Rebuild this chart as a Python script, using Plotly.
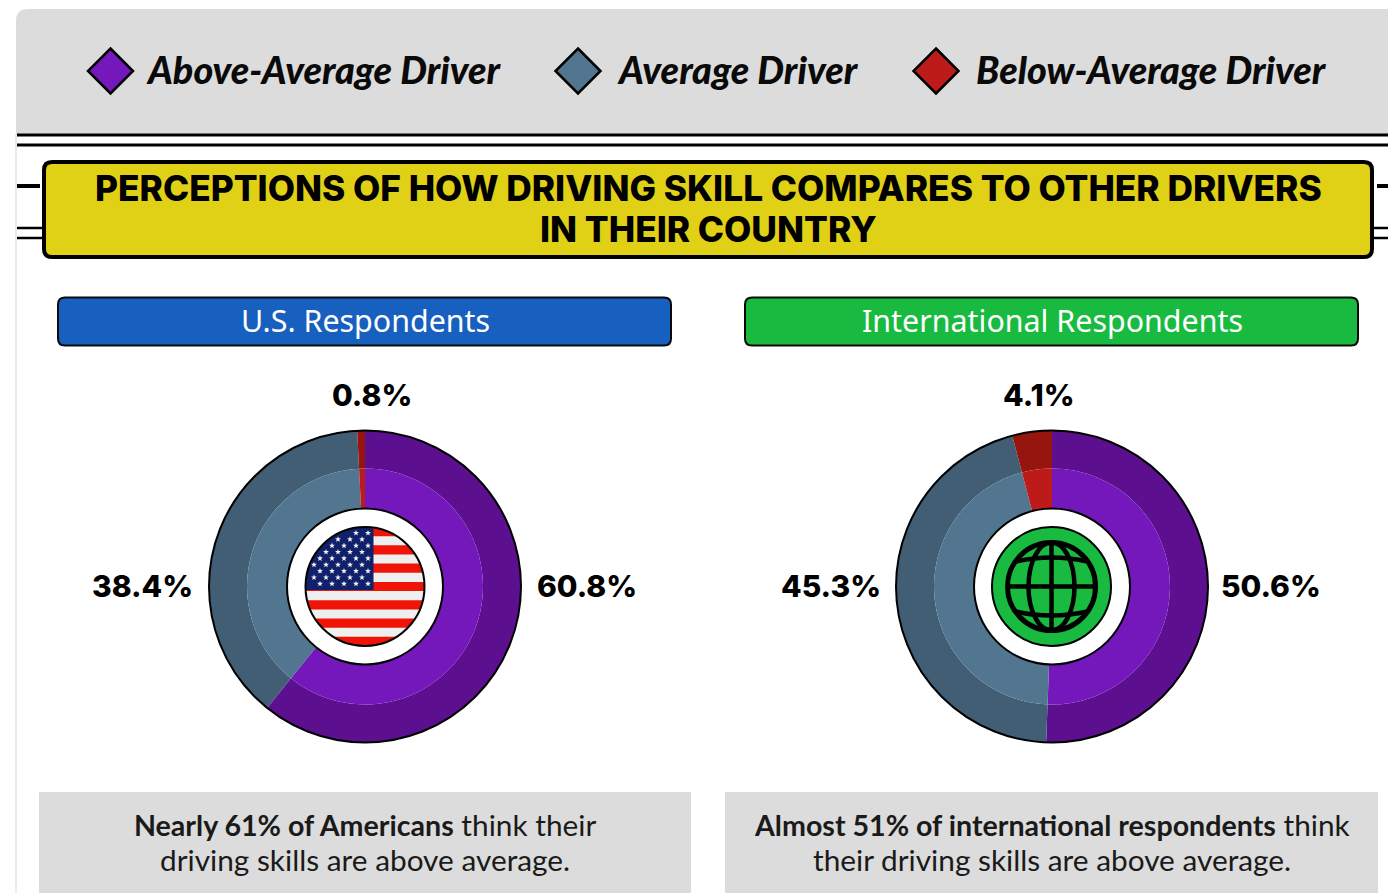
import math
import plotly.graph_objects as go

categories = ["Above-Average Driver", "Average Driver", "Below-Average Driver"]
us_values = [60.8, 38.4, 0.8]
intl_values = [50.6, 45.3, 4.1]
panel_names = ["U.S. Respondents", "International Respondents"]
title_lines = ["PERCEPTIONS OF HOW DRIVING SKILL COMPARES TO OTHER DRIVERS", "IN THEIR COUNTRY"]
note_us = ["Nearly 61% of Americans", " think their", "driving skills are above average."]
note_intl = ["Almost 51% of international respondents", " think", "their driving skills are above average."]

inner_colors = ["#7518bb", "#527590", "#bd1a1a"]
outer_colors = ["#5c0f8f", "#415e75", "#97150f"]
W, H = 1388, 893
GRAY = "#dcdcdc"
shapes, annos = [], []


def add_path(d, fill=None, lc="rgba(0,0,0,0)", lw=0, layer="above"):
    s = dict(type="path", path=d, xref="x", yref="y", layer=layer, line=dict(color=lc, width=lw))
    if fill:
        s["fillcolor"] = fill
    shapes.append(s)


def rrect(x0, y0, x1, y1, r, fill, lc="#000", lw=2):
    d = (f"M{x0+r},{y0} L{x1-r},{y0} Q{x1},{y0} {x1},{y0+r} L{x1},{y1-r} Q{x1},{y1} {x1-r},{y1} "
         f"L{x0+r},{y1} Q{x0},{y1} {x0},{y1-r} L{x0},{y0+r} Q{x0},{y0} {x0+r},{y0} Z")
    add_path(d, fill, lc, lw)


def line(x0, y0, x1, y1, w, c="#000"):
    shapes.append(dict(type="line", x0=x0, y0=y0, x1=x1, y1=y1, xref="x", yref="y", layer="above",
                       line=dict(color=c, width=w)))


def circle(cx, cy, r, fill=None, lc="#000", lw=2):
    s = dict(type="circle", x0=cx-r, x1=cx+r, y0=cy-r, y1=cy+r, xref="x", yref="y", layer="above",
             line=dict(color=lc, width=lw))
    if fill:
        s["fillcolor"] = fill
    shapes.append(s)


def text(x, y, t, size, family, color="#000", weight=400, style="normal", xanchor="center"):
    annos.append(dict(x=x, y=y, xref="x", yref="y", text=t, showarrow=False, xanchor=xanchor, yanchor="middle",
                      font=dict(size=size, family=family, color=color, weight=weight, style=style)))


# page furniture
add_path("M16,134 L16,21 Q16,9 28,9 L1388,9 L1388,134 Z", GRAY)
line(16, 134, 16, 893, 1.5, "#e4e4e4")
line(17, 135, 1388, 135, 3)
line(17, 145, 1388, 145, 3)
line(17, 186, 40, 186, 4)
line(1377, 186, 1388, 186, 4)
for yy in (228, 238):
    line(17, yy, 44, yy, 2.5)
    line(1372, yy, 1388, yy, 2.5)
rrect(44, 162, 1372, 257, 8, "#e0d016", "#000", 4)

# legend
leg_font = "Lato"
for cx, tx, name, col in zip((110.5, 578, 936), (144, 615, 974), categories, inner_colors):
    add_path(f"M{cx},48.5 L{cx+22.5},71 L{cx},93.5 L{cx-22.5},71 Z", col, "#000", 2.5)
    text(tx, 69, name, 37.8, leg_font, "#0a0a0a", 900, "italic", "left")

# title
text(708, 188, title_lines[0], 35.3, "Inter", "#000", 800)
text(708, 229, title_lines[1], 35.3, "Inter", "#000", 800)

# panels
panels = [
    dict(cx=365, vals=us_values, head="#1860c0", note=note_us, nx0=39, nx1=691, top=372, lx=535, rx=195),
    dict(cx=1052, vals=intl_values, head="#18bb40", note=note_intl, nx0=725, nx1=1378, top=1039, lx=1219, rx=883),
]
CY = 586.5
R_OUT, R_IN, R_HOLE, R_ICON = 156, 118, 78, 59
traces = []


def dom(c, r, size):
    return [(c - r) / size, (c + r) / size]


for p, name in zip(panels, panel_names):
    cx = p["cx"]
    yd = dom(H - CY, R_OUT, H)
    traces.append(go.Pie(labels=categories, values=p["vals"], sort=False, direction="clockwise", rotation=0,
                         hole=R_IN / R_OUT, textinfo="none", hoverinfo="label+value", showlegend=False,
                         marker=dict(colors=outer_colors, line=dict(width=0)),
                         domain=dict(x=dom(cx, R_OUT, W), y=yd)))
    traces.append(go.Pie(labels=categories, values=p["vals"], sort=False, direction="clockwise", rotation=0,
                         hole=0.6, textinfo="none", hoverinfo="label+value", showlegend=False,
                         marker=dict(colors=inner_colors, line=dict(width=0)),
                         domain=dict(x=dom(cx, R_IN, W), y=dom(H - CY, R_IN, H))))
    circle(cx, CY, R_OUT, None, "#000", 2)
    circle(cx, CY, R_HOLE, "#ffffff", "#000", 2)
    rrect(cx - 307, 297.5, cx + 306, 345.5, 7, p["head"], "#0a0a0a", 2)
    text(cx, 320, name, 30.4, "Noto Sans", "#ffffff")
    v = p["vals"]
    text(p["lx"], 586, f"{v[0]}%", 30, "Inter", "#000", 800, "normal", "left")
    text(p["rx"], 586, f"{v[1]}%", 30, "Inter", "#000", 800, "normal", "right")
    text(p["top"], 395, f"{v[2]}%", 30, "Inter", "#000", 800)
    add_path(f"M{p['nx0']},792 L{p['nx1']},792 L{p['nx1']},893 L{p['nx0']},893 Z", GRAY)
    bold, rest, second = p["note"]
    text(cx, 824.5, f'<span style="font-size:28.6px"><b>{bold}</b></span>{rest}', 29.8, "Lato", "#1a1a1a")
    text(cx, 859, second, 29.8, "Lato", "#1a1a1a")


# US flag icon
def band(cx, cy, r, y0, y1, xmax=None, n=12):
    ys = [y0 + (y1 - y0) * i / n for i in range(n + 1)]
    half = [math.sqrt(max(r*r - (y - cy)**2, 0)) for y in ys]
    right = [cx + h if xmax is None else min(cx + h, xmax) for h in half]
    pts = [(cx - h, y) for h, y in zip(half, ys)] + [(x, y) for x, y in zip(right[::-1], ys[::-1])]
    return "M" + " L".join(f"{x:.2f},{y:.2f}" for x, y in pts) + " Z"


fx, fy, fr = 365, 586.5, 59.5
circle(fx, fy, fr, "#efefef", "#000", 0)
sh = 2 * fr / 13
top = fy - fr
for i in range(0, 13, 2):
    add_path(band(fx, fy, fr, top + i * sh, top + (i + 1) * sh), "#f01408")
cant_x, cant_y = 373.5, top + 7 * sh - 1
add_path(band(fx, fy, fr, top, cant_y, cant_x, 30), "#10206a")
star_d = []
for row in range(9):
    sy = top + 6 + row * 6.35
    x0 = cant_x - 5.5 - (6 if row % 2 else 0)
    for k in range(6):
        sx = x0 - 12 * k
        if math.hypot(sx - fx, sy - fy) > fr - 2.5:
            continue
        pts = []
        for j in range(10):
            a = -math.pi / 2 + j * math.pi / 5
            rr = 3.1 if j % 2 == 0 else 1.3
            pts.append(f"{sx + rr*math.cos(a):.2f},{sy + rr*math.sin(a):.2f}")
        star_d.append("M" + " L".join(pts) + " Z")
add_path(" ".join(star_d), "#f2f2f2")
circle(fx, fy, fr, None, "#000", 2)

# globe icon
gx, gy, gr = 1051.5, 586.5, 59.5
circle(gx, gy, gr, "#18bb40", "#000", 2)
gl = 44
circle(gx, gy, gl, None, "#000", 5)
shapes.append(dict(type="circle", x0=gx-23, x1=gx+23, y0=gy-gl, y1=gy+gl, xref="x", yref="y", layer="above",
                   line=dict(color="#000", width=4.5)))
line(gx, gy-gl, gx, gy+gl, 4.5)
line(gx-gl, gy, gx+gl, gy, 4.5)
add_path(f"M{gx-36},{gy-25} Q{gx},{gy-33} {gx+36},{gy-25}", None, "#000", 4.5)
add_path(f"M{gx-36},{gy+25} Q{gx},{gy+33} {gx+36},{gy+25}", None, "#000", 4.5)

fig = go.Figure(traces)
fig.update_layout(width=W, height=H, margin=dict(l=0, r=0, t=0, b=0), autosize=False, paper_bgcolor="#ffffff",
                  plot_bgcolor="#ffffff", shapes=shapes, annotations=annos, showlegend=False,
                  xaxis=dict(range=[0, W], visible=False, fixedrange=True),
                  yaxis=dict(range=[H, 0], visible=False, fixedrange=True))
fig.add_trace(go.Scatter(x=[0], y=[0], mode="markers", marker=dict(opacity=0), hoverinfo="skip", showlegend=False))
fig.write_html("out.html", post_script="document.body.style.margin='0';", config=dict(displayModeBar=False))
